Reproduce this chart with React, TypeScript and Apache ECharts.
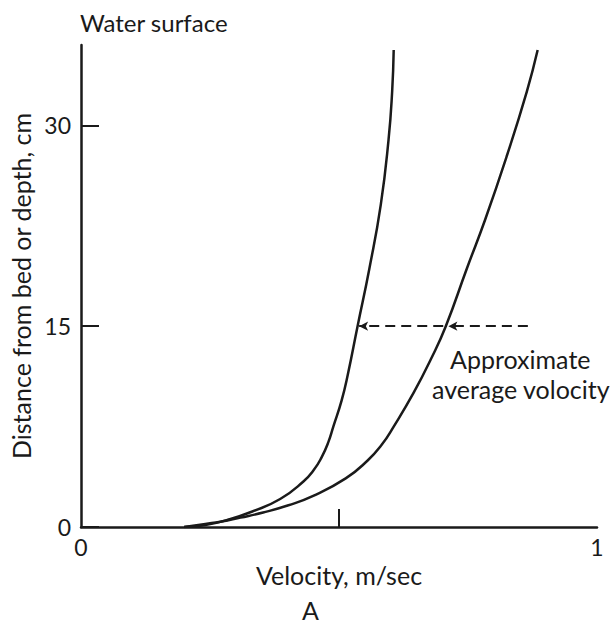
import React, { useEffect, useRef } from "react";
import * as echarts from "echarts";

// velocity (m/sec), distance from bed (cm)
const leftCurve: [number, number][] = [
  [0.2, 0], [0.241, 0.15], [0.285, 0.54], [0.332, 1.16], [0.386, 2.09],
  [0.431, 3.4], [0.451, 4.25], [0.466, 5.18], [0.479, 6.3], [0.489, 7.5],
  [0.505, 9.44], [0.517, 11.37], [0.536, 15.0], [0.559, 19.33],
  [0.581, 24.08], [0.596, 28.92], [0.603, 32.52], [0.606, 35.62],
];
const rightCurve: [number, number][] = [
  [0.2, 0], [0.241, 0.23], [0.27, 0.39], [0.309, 0.7], [0.353, 1.08],
  [0.402, 1.62], [0.45, 2.32], [0.513, 3.63], [0.555, 4.95], [0.582, 6.1],
  [0.606, 7.5], [0.645, 10.05], [0.678, 12.53], [0.707, 15.0], [0.748, 19.33],
  [0.783, 22.93], [0.825, 27.69], [0.864, 32.52], [0.885, 35.62],
];
const averageDepth = 15;
const arrowSegments: [number, number][] = [
  [0.866, 0.712],
  [0.702, 0.539],
];
const yTickValues = [0, 15, 30];
const xLabelValues = [0, 1];
const xTickValues = [0.5];

const FONT = "Lato";
const INK = "#1a1a1a";

export default function App() {
  const ref = useRef<HTMLDivElement>(null);
  useEffect(() => {
    if (!ref.current) return;
    const chart = echarts.init(ref.current, null, { renderer: "svg" });
    chart.setOption({
      animation: false,
      backgroundColor: "#ffffff",
      grid: { left: 81, right: 16, top: 45, bottom: 99 },
      xAxis: {
        type: "value",
        min: 0,
        max: 1,
        name: "Velocity, m/sec",
        nameLocation: "middle",
        nameGap: 34,
        nameTextStyle: { fontFamily: FONT, fontSize: 25, color: INK },
        splitLine: { show: false },
        axisLine: { show: true, onZero: false, lineStyle: { color: INK, width: 2.5 } },
        axisTick: { show: true, inside: true, length: 18, customValues: xTickValues, lineStyle: { color: INK, width: 2 } },
        axisLabel: { customValues: xLabelValues, fontFamily: FONT, fontSize: 23, color: INK, margin: 8 },
      },
      yAxis: {
        type: "value",
        min: 0,
        max: 36,
        name: "Distance from bed or depth, cm",
        nameLocation: "middle",
        nameGap: 46,
        nameTextStyle: { fontFamily: FONT, fontSize: 25, color: INK },
        splitLine: { show: false },
        axisLine: { show: true, lineStyle: { color: INK, width: 2.5 } },
        axisTick: { show: true, inside: true, length: 18, customValues: yTickValues, lineStyle: { color: INK, width: 2 } },
        axisLabel: { customValues: yTickValues, fontFamily: FONT, fontSize: 23, color: INK, margin: 10 },
      },
      series: [
        {
          type: "line",
          data: leftCurve,
          smooth: 0.5,
          showSymbol: false,
          lineStyle: { color: INK, width: 2.5 },
          markLine: {
            silent: true,
            symbol: ["none", "arrow"],
            symbolSize: [7, 9],
            label: { show: false },
            lineStyle: { color: INK, width: 2, type: [10, 6] },
            data: arrowSegments.map(([a, b]) => [
              { coord: [a, averageDepth] },
              { coord: [b, averageDepth] },
            ]),
          },
        },
        {
          type: "line",
          data: rightCurve,
          smooth: 0.5,
          showSymbol: false,
          lineStyle: { color: INK, width: 2.5 },
        },
      ],
      graphic: [
        {
          type: "text",
          left: 80,
          top: 10,
          style: { text: "Water surface", fontFamily: FONT, fontSize: 24, fill: INK },
        },
        {
          type: "text",
          left: 450,
          top: 346,
          style: { text: "Approximate", fontFamily: FONT, fontSize: 25, lineHeight: 26, fill: INK },
        },
        {
          type: "text",
          left: 432,
          top: 376,
          style: { text: "average volocity", fontFamily: FONT, fontSize: 25, lineHeight: 26, fill: INK },
        },
        {
          type: "text",
          left: 302,
          top: 597,
          style: { text: "A", fontFamily: FONT, fontSize: 25, lineHeight: 25, fill: INK },
        },
      ],
    });
    return () => chart.dispose();
  }, []);
  return (
    <div
      ref={ref}
      style={{ position: "fixed", left: 0, top: 0, width: 613, height: 626 }}
    />
  );
}
